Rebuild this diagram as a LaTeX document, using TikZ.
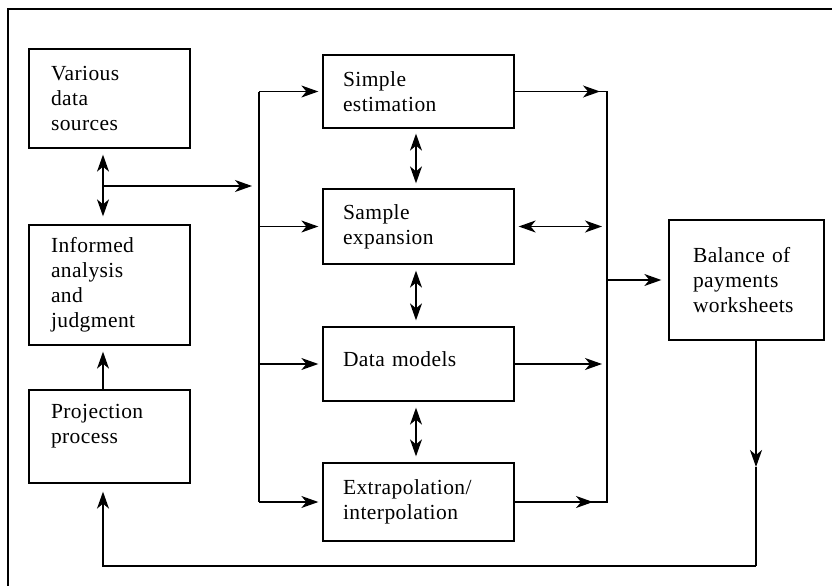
\documentclass[tikz,border=0pt]{standalone}
\usepackage{fontspec}
\setmainfont[LetterSpace=2]{Liberation Serif}
\usetikzlibrary{arrows.meta,calc}
\begin{document}
\begin{tikzpicture}[x=1pt,y=-1pt,
  ln/.style={line width=1.3pt},
  box/.style={draw,ln,align=left,inner ysep=0pt,font=\fontsize{21.5}{25}\selectfont},
  leftbox/.style={box,text width=117pt,inner xsep=22pt},
  midbox/.style={box,text width=151pt,inner xsep=20pt},
  arr/.style={ln,-{Stealth[length=17pt,width=12pt,inset=5pt]}},
  darr/.style={ln,{Stealth[length=17pt,width=12pt,inset=5pt]}-{Stealth[length=17pt,width=12pt,inset=5pt]}}]
\useasboundingbox (0,0) rectangle (832,586);
% frame (right and bottom sides lie outside the picture)
\draw[ln] (832,9) -- (8,9) -- (8,586);

% boxes
\node[leftbox,minimum height=99pt] (vds) at (109.5,98.5) {Various\\data\\sources};
\node[leftbox,minimum height=120pt] (iaj) at (109.5,285) {Informed\\analysis\\and\\judgment};
\node[leftbox,minimum height=93pt] (pp) at (109.5,436.5) {Projection\\process\\\mbox{}};
\node[midbox,minimum height=73pt] (se) at (418.5,91.5) {Simple\\estimation};
\node[midbox,minimum height=75pt] (sx) at (418.5,226.5) {Sample\\expansion};
\node[midbox,minimum height=74pt] (dm) at (418.5,364) {Data models\\[-15pt]\mbox{}};
\node[midbox,minimum height=78pt] (ex) at (418.5,502) {Extrapolation/\\interpolation};
\node[box,text width=107pt,inner xsep=24pt,minimum height=120pt] (bop) at (746.5,280) {Balance of\\payments\\worksheets};

% helper coordinates
\coordinate (j) at (103,186);
\coordinate (lb) at (259,0);
\coordinate (rb) at (607,0);
\coordinate (mx) at (416,0);
\coordinate (bx) at (756,566);
\coordinate (bm) at (756,467);

% left column
\draw[darr] ($(j |- vds.south)+(0,6)$) -- ($(j |- iaj.north)+(0,-8)$);
\draw[arr] (j) -- ($(lb |- j)+(-7,0)$);
\draw[arr] (j |- pp.north) -- ($(j |- iaj.south)+(0,6)$);

% left bus
\draw[ln] (lb |- se.west) -- (lb |- ex.west);
\foreach \n in {se,sx,dm,ex}
  \draw[arr] (lb |- \n.west) -- ($(\n.west)+(-4,0)$);

% vertical double arrows between middle boxes
\draw[darr] ($(mx |- se.south)+(0,5)$) -- ($(mx |- sx.north)+(0,-5)$);
\draw[darr] ($(mx |- sx.south)+(0,6)$) -- ($(mx |- dm.north)+(0,-6)$);
\draw[darr] ($(mx |- dm.south)+(0,6)$) -- ($(mx |- ex.north)+(0,-6)$);

% right bus
\draw[ln] (se.east) -- (rb |- se.east) -- (rb |- ex.east) -- (ex.east);
\draw[arr] (se.east) -- ($(rb |- se.east)+(-7,0)$);
\draw[darr] ($(sx.east)+(4,0)$) -- ($(rb |- sx.east)+(-5,0)$);
\draw[arr] (dm.east) -- ($(rb |- dm.east)+(-5,0)$);
\draw[arr] (ex.east) -- ($(rb |- ex.east)+(-14,0)$);
\draw[arr] (rb |- bop.west) -- ($(bop.west)+(-7,0)$);

% feedback loop
\draw[arr] (bx |- bop.south) -- (bm);
\draw[ln] (bm) -- (bx);
\draw[arr] (bx) -- (j |- bx) -- ($(j |- pp.south)+(0,8)$);
\end{tikzpicture}
\end{document}
